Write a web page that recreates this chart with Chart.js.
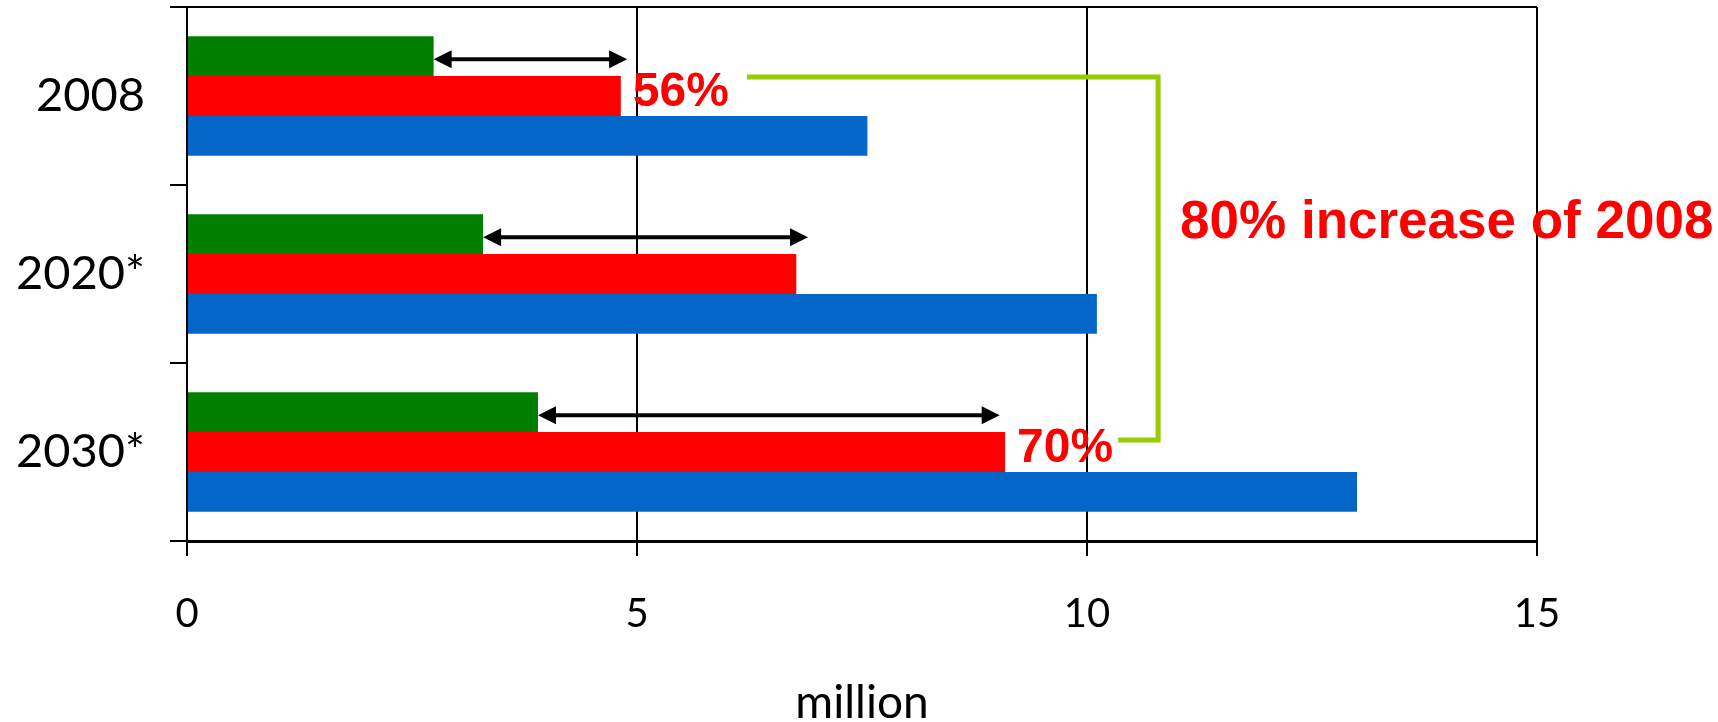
<!DOCTYPE html>
<html><head><meta charset="utf-8">
<script src="https://cdn.jsdelivr.net/npm/chart.js@4.4.1/dist/chart.umd.min.js"></script>
<style>html,body{margin:0;padding:0;background:#fff}#wrap{width:1718px;height:722px}</style>
</head><body><div id="wrap"><canvas id="c" width="1718" height="722"></canvas></div>
<script>
const categories = ['2008', '2020*', '2030*'];
const greenValues = [2.74, 3.29, 3.90];
const redValues = [4.82, 6.77, 9.09];
const blueValues = [7.56, 10.11, 13.0];
const arrowTargets = [4.89, 6.9, 9.03];
const percentLabels = ['56%', '', '70%'];
const bracketLabel = '80% increase of 2008';
const bracketValue = 10.79;
const xTickValues = [0, 5, 10, 15];
const axisTitle = 'million';

function drawDoubleArrow(ctx, x1, x2, y) {
  const head = 18, half = 9;
  ctx.strokeStyle = '#000'; ctx.fillStyle = '#000'; ctx.lineWidth = 4;
  ctx.beginPath(); ctx.moveTo(x1 + head - 2, y); ctx.lineTo(x2 - head + 2, y); ctx.stroke();
  ctx.beginPath(); ctx.moveTo(x1, y); ctx.lineTo(x1 + head, y - half); ctx.lineTo(x1 + head, y + half); ctx.closePath(); ctx.fill();
  ctx.beginPath(); ctx.moveTo(x2, y); ctx.lineTo(x2 - head, y - half); ctx.lineTo(x2 - head, y + half); ctx.closePath(); ctx.fill();
}

const overlay = {
  id: 'overlay',
  afterDatasetsDraw(chart) {
    const ctx = chart.ctx;
    const xs = chart.scales.x;
    const area = chart.chartArea;
    const gMeta = chart.getDatasetMeta(0), rMeta = chart.getDatasetMeta(1);
    ctx.save();
    ctx.strokeStyle = '#000'; ctx.lineWidth = 2;
    ctx.beginPath(); ctx.moveTo(area.left, area.top); ctx.lineTo(area.right, area.top); ctx.stroke();
    greenValues.forEach((g, i) => {
      const y = gMeta.data[i].y + 3;
      drawDoubleArrow(ctx, xs.getPixelForValue(g), xs.getPixelForValue(arrowTargets[i]), y);
    });
    ctx.font = 'bold 48px "Liberation Sans"';
    ctx.fillStyle = '#FF0000'; ctx.textBaseline = 'middle'; ctx.textAlign = 'left';
    const ends = [];
    percentLabels.forEach((t, i) => {
      if (!t) return;
      const bar = rMeta.data[i];
      const lx = bar.x + 12, ly = bar.y - 3;
      ctx.fillText(t, lx, ly);
      ends[i] = lx + ctx.measureText(t).width;
    });
    const bx = xs.getPixelForValue(bracketValue);
    const yTop = rMeta.data[0].y - 19, yBot = rMeta.data[2].y - 12;
    ctx.strokeStyle = '#99CC00'; ctx.lineWidth = 5; ctx.lineJoin = 'miter'; ctx.lineCap = 'butt';
    ctx.beginPath(); ctx.moveTo(ends[0] + 18, yTop); ctx.lineTo(bx, yTop); ctx.lineTo(bx, yBot); ctx.lineTo(ends[2] + 5, yBot); ctx.stroke();
    ctx.font = 'bold 53px "Liberation Sans"';
    ctx.fillStyle = '#FF0000';
    ctx.fillText(bracketLabel, bx + 22, gMeta.data[1].y - 11);
    ctx.restore();
  }
};

new Chart(document.getElementById('c'), {
  type: 'bar',
  data: {
    labels: categories,
    datasets: [
      { data: greenValues, backgroundColor: '#007F00' },
      { data: redValues, backgroundColor: '#FF0000' },
      { data: blueValues, backgroundColor: '#0566CA' }
    ]
  },
  options: {
    indexAxis: 'y',
    responsive: false,
    animation: false,
    devicePixelRatio: 1,
    categoryPercentage: 0.67,
    barPercentage: 1,
    layout: { padding: { left: 0, top: 7, right: 181, bottom: 0 } },
    plugins: { legend: { display: false }, tooltip: { enabled: false } },
    scales: {
      x: {
        min: 0, max: 15,
        afterBuildTicks: (s) => { s.ticks = xTickValues.map(v => ({ value: v })); },
        afterFit: (s) => { s.height = 181; s.paddingLeft = 0; s.paddingRight = 0; },
        grid: { color: '#000', lineWidth: 2, tickLength: 15, drawTicks: true },
        border: { display: true, color: '#000', width: 3 },
        ticks: { color: '#000', font: { family: 'Lato', size: 40 }, padding: 34, maxRotation: 0 },
        title: { display: true, text: axisTitle, color: '#000', font: { family: 'Lato', size: 46, lineHeight: 0.8 }, padding: 0 }
      },
      y: {
        afterFit: (s) => { s.width = 187; s.paddingTop = 0; s.paddingBottom = 0; },
        grid: { display: true, drawOnChartArea: false, drawTicks: true, tickLength: 17, color: '#000', lineWidth: 2, offset: true },
        border: { display: true, color: '#000', width: 2 },
        ticks: { color: '#000', font: { family: 'Lato', size: 47 }, padding: 25 }
      }
    }
  },
  plugins: [overlay]
});
</script></body></html>
